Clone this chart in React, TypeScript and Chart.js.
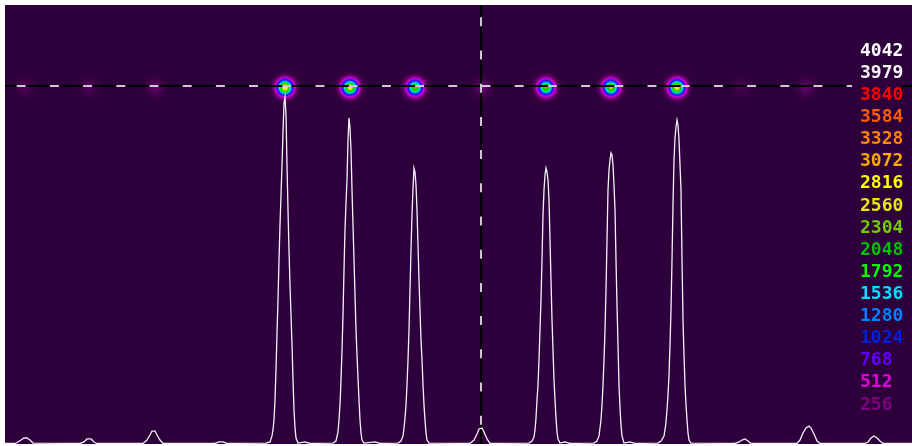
import React, { useEffect, useRef, useState } from 'react';
import { Chart, registerables } from 'chart.js';

Chart.register(...registerables);

// Intensity profile along the cursor row (column index -> intensity)
const profileX = [
  5, 15, 18, 21, 24, 27, 30, 33,
  80, 84, 87, 91, 94, 97,
  143, 147, 150, 152, 155, 157, 160, 163,
  215, 219, 223, 227,
  266, 270, 272, 273, 274, 275, 276, 277, 278, 279, 280, 281, 282, 283, 284, 285, 286, 287, 288, 289, 290, 291, 292, 293, 294, 295, 296, 298,
  305, 310,
  333, 336, 338, 339, 340, 341, 342, 343, 344, 345, 346, 347, 348, 349, 350, 351, 352, 353, 354, 355, 356, 357, 358, 359, 360, 361, 362, 364,
  375, 380,
  398, 401, 403, 404, 405, 406, 407, 408, 409, 410, 411, 412, 413, 414, 415, 416, 417, 418, 419, 420, 421, 422, 423, 424, 425, 426, 427, 429,
  470, 474, 477, 479, 482, 484, 487, 490,
  529, 532, 534, 535, 536, 537, 538, 539, 540, 541, 542, 543, 544, 545, 546, 547, 548, 549, 550, 551, 552, 553, 554, 555, 556, 557, 558, 560,
  565, 570,
  594, 597, 599, 600, 601, 602, 603, 604, 605, 606, 607, 608, 609, 610, 611, 612, 613, 614, 615, 616, 617, 618, 619, 620, 621, 622, 624,
  630, 635,
  658, 661, 664, 665, 666, 667, 668, 669, 670, 671, 672, 673, 674, 675, 676, 677, 678, 679, 680, 681, 682, 683, 684, 685, 686, 687, 688, 689, 691,
  735, 739, 742, 745, 748, 751,
  797, 800, 803, 806, 809, 811, 814, 817, 820,
  865, 868, 871, 874, 877, 880, 883,
  912,
];
const profileY = [
  5, 5, 19, 37, 56, 56, 37, 9,
  5, 19, 47, 47, 19, 5,
  5, 37, 84, 121, 121, 84, 37, 5,
  5, 19, 19, 5,
  9, 19, 75, 131, 224, 411, 690, 1036, 1344, 1717, 2043, 2323, 2603, 2911, 3182, 3238, 3070, 2603, 2183, 1810, 1483, 1204, 924, 597, 317, 149, 56, 9,
  19, 5,
  9, 28, 112, 224, 364, 597, 877, 1204, 1623, 1997, 2249, 2463, 2836, 3042, 2948, 2743, 2370, 2043, 1717, 1390, 1064, 830, 616, 411, 224, 103, 37, 9,
  19, 5,
  9, 28, 75, 149, 243, 364, 550, 784, 1064, 1437, 1810, 2137, 2388, 2575, 2538, 2416, 2183, 1857, 1530, 1250, 970, 784, 550, 364, 224, 103, 37, 9,
  5, 37, 93, 140, 149, 112, 47, 5,
  9, 28, 65, 131, 243, 411, 550, 784, 1064, 1344, 1717, 2137, 2370, 2510, 2575, 2538, 2463, 2277, 1903, 1530, 1157, 877, 597, 411, 243, 112, 47, 9,
  19, 5,
  9, 28, 75, 149, 224, 364, 550, 784, 1064, 1437, 1903, 2370, 2556, 2650, 2715, 2696, 2603, 2416, 2183, 1717, 1297, 924, 550, 336, 177, 75, 9,
  19, 5,
  9, 28, 75, 131, 205, 317, 457, 644, 924, 1250, 1717, 2230, 2650, 2855, 2958, 3023, 2976, 2836, 2603, 2370, 1717, 1157, 830, 550, 364, 224, 103, 37, 9,
  5, 19, 37, 47, 28, 5,
  5, 37, 103, 149, 168, 149, 93, 28, 5,
  5, 19, 56, 75, 56, 28, 5,
  5,
];

// Spots along the cursor row (column, peak intensity in colour-scale units)
const spotX = [25, 89, 155, 285, 350, 415, 482, 546, 611, 677, 741, 806];
const spotPeak = [110, 110, 170, 2850, 2720, 2300, 190, 2320, 2450, 2740, 90, 160];

// Cursor position (image row / column)
const cursorRow = 81;
const spotRow = 82.5;
const cursorCol = 481;
const imageRows = 439;
const imageColMin = 5;
const imageColMax = 912;
const profileMax = 4096;

// Colour scale legend (top to bottom)
const legendLabels = ['4042', '3979', '3840', '3584', '3328', '3072', '2816', '2560', '2304', '2048', '1792', '1536', '1280', '1024', '768', '512', '256'];
const legendColors = ['#ffffff', '#f4f4f4', '#ff0000', '#ff5c00', '#ff8400', '#ffa800', '#ffff00', '#e8e800', '#70cc00', '#00c000', '#00ff00', '#00e0ff', '#0080ff', '#0020e0', '#6000ff', '#e000e0', '#800080'];

const BG = '#2d003b';
const LEGEND_FONT = 'bold 18px "DejaVu Sans Mono", monospace';

function hexToRgb(h: string) {
  const n = parseInt(h.slice(1), 16);
  return [(n >> 16) & 255, (n >> 8) & 255, n & 255];
}

function colorAt(v: number) {
  const stops = legendLabels.map((l, i) => ({ v: Number(l), c: hexToRgb(legendColors[i]) })).reverse();
  if (v <= 0) return 'rgba(128,0,128,0)';
  if (v < stops[0].v) {
    const c = stops[0].c;
    return `rgba(${c[0]},${c[1]},${c[2]},${(v / stops[0].v).toFixed(3)})`;
  }
  for (let i = 0; i < stops.length - 1; i++) {
    const a = stops[i], b = stops[i + 1];
    if (v <= b.v) {
      const t = (v - a.v) / (b.v - a.v);
      const c = a.c.map((x, k) => Math.round(x + (b.c[k] - x) * t));
      return `rgb(${c[0]},${c[1]},${c[2]})`;
    }
  }
  return '#ffffff';
}

function makeSpot(peak: number) {
  const size = 40;
  const c = size / 2;
  const R = 19;
  const faint = peak < 400;
  const sigma = faint ? 5.5 : 5.2;
  const cv = document.createElement('canvas');
  cv.width = size;
  cv.height = size;
  const ctx = cv.getContext('2d')!;
  const g = ctx.createRadialGradient(c, c, 0, c, c, R);
  for (let k = 0; k <= 38; k++) {
    const t = k / 38;
    const r = t * R;
    const I = peak * Math.exp(-(r * r) / (2 * sigma * sigma));
    g.addColorStop(t, colorAt(I));
  }
  ctx.fillStyle = g;
  ctx.fillRect(0, 0, size, size);
  return cv;
}

const bgPlugin = {
  id: 'bgPlugin',
  beforeDraw(chart: any) {
    const { ctx, chartArea } = chart;
    ctx.save();
    ctx.fillStyle = BG;
    ctx.fillRect(chartArea.left, chartArea.top, chartArea.right - chartArea.left, chartArea.bottom - chartArea.top);
    ctx.restore();
  },
  afterDatasetsDraw(chart: any) {
    const { ctx } = chart;
    const yl = chart.scales.yL;
    if (!yl) return;
    const top = yl.getPixelForValue(-0.6);
    const bottom = yl.getPixelForValue(legendLabels.length - 0.4);
    ctx.save();
    ctx.fillStyle = BG;
    ctx.fillRect(852, top, 50, bottom - top);
    ctx.font = LEGEND_FONT;
    ctx.textAlign = 'left';
    ctx.textBaseline = 'middle';
    legendLabels.forEach((label, i) => {
      ctx.fillStyle = legendColors[i];
      ctx.fillText(label, 860, yl.getPixelForValue(i));
    });
    ctx.restore();
  },
};

export default function App() {
  const ref = useRef<HTMLCanvasElement>(null);
  const [err, setErr] = useState('');
  useEffect(() => {
    if (!ref.current) return;
    let chart: any = null;
    try {
      const spotImages = spotPeak.map((p) => makeSpot(p));
      const hLine = [{ x: imageColMin, y: cursorRow }, { x: imageColMax, y: cursorRow }];
      const vLine = [{ x: cursorCol, y: 0 }, { x: cursorCol, y: imageRows }];
      chart = new Chart(ref.current, {
        type: 'line',
        data: {
          datasets: [
            {
              data: profileX.map((x, i) => ({ x, y: profileY[i] })),
              borderColor: '#f6f2fa',
              borderWidth: 1.3,
              pointRadius: 0,
              tension: 0,
              xAxisID: 'x',
              yAxisID: 'y',
            },
            {
              data: hLine,
              borderColor: '#cfc6d8',
              borderWidth: 2,
              borderDash: [9, 24.2],
              borderDashOffset: 21.5,
              pointRadius: 0,
              xAxisID: 'x',
              yAxisID: 'yImg',
            },
            {
              data: vLine,
              borderColor: '#cfc6d8',
              borderWidth: 2,
              borderDash: [9, 24.2],
              borderDashOffset: 20.9,
              pointRadius: 0,
              xAxisID: 'x',
              yAxisID: 'yImg',
            },
            {
              data: hLine,
              borderColor: '#000000',
              borderWidth: 2,
              pointRadius: 0,
              xAxisID: 'x',
              yAxisID: 'yImg',
            },
            {
              data: vLine,
              borderColor: '#000000',
              borderWidth: 2,
              pointRadius: 0,
              xAxisID: 'x',
              yAxisID: 'yImg',
            },
            {
              data: spotX.map((x) => ({ x, y: spotRow })),
              showLine: false,
              pointStyle: spotImages as any,
              pointRadius: 3,
              pointBorderWidth: 0,
              xAxisID: 'x',
              yAxisID: 'yImg',
            },
          ] as any,
        },
        options: {
          responsive: false,
          animation: false,
          events: [],
          layout: { autoPadding: false, padding: { left: 5, top: 5, right: 0, bottom: 2 } },
          plugins: { legend: { display: false }, tooltip: { enabled: false } },
          scales: {
            x: { type: 'linear', min: imageColMin, max: imageColMax, display: false },
            y: { type: 'linear', min: 0, max: profileMax, display: false },
            yImg: { type: 'linear', axis: 'y', min: 0, max: imageRows, reverse: true, display: false },
            yL: { type: 'linear', axis: 'y', min: -2.09, max: 17.77, reverse: true, display: false },
          },
        } as any,
        plugins: [bgPlugin],
      });
    } catch (e: any) {
      setErr(String(e && e.stack ? e.stack : e));
    }
    return () => {
      if (chart) chart.destroy();
    };
  }, []);
  return (
    <div style={{ position: 'fixed', left: 0, top: 0, width: 912, height: 446, background: '#ffffff' }}>
      <canvas ref={ref} width={912} height={446} style={{ display: 'block' }} />
      {err ? <pre style={{ position: 'absolute', left: 0, top: 0, fontSize: 10, color: 'red', whiteSpace: 'pre-wrap' }}>{err}</pre> : null}
    </div>
  );
}
